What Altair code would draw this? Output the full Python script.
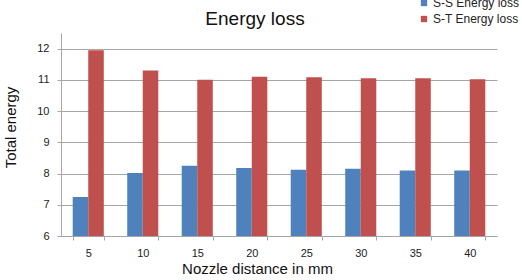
import altair as alt
import pandas as pd

distances = ["5", "10", "15", "20", "25", "30", "35", "40"]
ss_loss = [7.25, 8.02, 8.25, 8.18, 8.12, 8.15, 8.10, 8.10]
st_loss = [11.95, 11.30, 11.00, 11.10, 11.08, 11.05, 11.05, 11.02]
series = ["S-S Energy loss", "S-T Energy loss"]
colors = ["#4F81BD", "#C0504D"]

rows = []
for d, a, b in zip(distances, ss_loss, st_loss):
    rows.append({"dist": d, "series": series[0], "value": a})
    rows.append({"dist": d, "series": series[1], "value": b})
df = pd.DataFrame(rows)

font = "Liberation Sans"

chart = alt.Chart(df).mark_bar(clip=True).encode(
    x=alt.X("dist:N", sort=distances,
            scale=alt.Scale(paddingInner=0.43, paddingOuter=0.215),
            axis=alt.Axis(title="Nozzle distance in mm", labelAngle=0,
                          tickBand="extent", tickSize=4, labelPadding=7,
                          labelFontSize=11, labelColor="#222", labelFont=font,
                          domainColor="#a6a6a6", tickColor="#a6a6a6",
                          titleFont=font, titleFontSize=15, titleFontWeight="normal",
                          titleColor="#111", titleX=196, titleY=32,
                          titleBaseline="middle")),
    xOffset=alt.XOffset("series:N", sort=series),
    y=alt.Y("value:Q",
            scale=alt.Scale(domain=[6, 12.5], nice=False, zero=False),
            axis=alt.Axis(title="Total energy", values=[6, 7, 8, 9, 10, 11, 12],
                          tickSize=4, labelPadding=8, labelFontSize=11,
                          labelColor="#222", labelFont=font,
                          domainColor="#a6a6a6", tickColor="#a6a6a6",
                          gridColor="#a6a6a6", grid=True,
                          titleFont=font, titleFontSize=15, titleFontWeight="normal",
                          titleColor="#111", titleX=-51, titleY=94,
                          titleBaseline="middle")),
    color=alt.Color("series:N", sort=series,
                    scale=alt.Scale(domain=series, range=colors),
                    legend=alt.Legend(title=None, orient="none", legendX=357,
                                      legendY=-36, symbolType="square",
                                      symbolSize=40, symbolStrokeWidth=0,
                                      labelFont=font, labelFontSize=12,
                                      labelColor="#222", rowPadding=4,
                                      labelOffset=3)),
).properties(
    width=436, height=203,
    title=alt.TitleParams("Energy loss", font=font, fontSize=19,
                          fontWeight="normal", color="#111", anchor="middle",
                          frame="group", dx=-24, dy=41, offset=9),
    autosize=alt.AutoSizeParams(type="none"),
    padding={"left": 61, "top": 33, "right": 25, "bottom": 44},
).configure_view(stroke=None).configure_axisX(grid=False)

chart.save("out.html", embed_options={"renderer": "svg", "actions": False})
